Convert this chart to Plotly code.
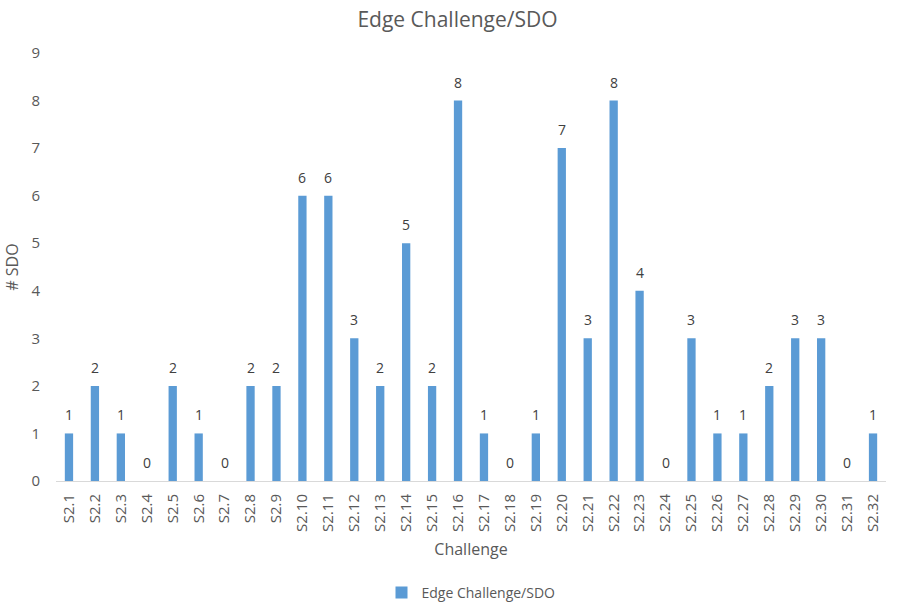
import plotly.graph_objects as go

# Number of SDOs linked to each edge challenge
challenges = [f"S2.{i}" for i in range(1, 33)]
sdo_counts = [1, 2, 1, 0, 2, 1, 0, 2, 2, 6, 6, 3, 2, 5, 2, 8,
              1, 0, 1, 7, 3, 8, 4, 0, 3, 1, 1, 2, 3, 3, 0, 1]
y_ticks = list(range(0, 10))

BAR_COLOR = "#5B9BD5"
TEXT_COLOR = "#595959"
FONT = "Open Sans, Noto Sans, sans-serif"

fig = go.Figure(
    go.Bar(
        x=challenges,
        y=sdo_counts,
        name="Edge Challenge/SDO",
        marker=dict(color=BAR_COLOR, line=dict(width=0)),
        width=0.32,
        showlegend=True,
    )
)

# Value labels sitting above each bar
for cat, val in zip(challenges, sdo_counts):
    fig.add_annotation(
        x=cat,
        y=val,
        text=str(val),
        showarrow=False,
        yanchor="bottom",
        yshift=7,
        font=dict(family=FONT, size=14, color="#404040"),
    )

fig.update_layout(
    width=915,
    height=605,
    paper_bgcolor="white",
    plot_bgcolor="white",
    font=dict(family=FONT, color=TEXT_COLOR),
    title=dict(
        text="Edge Challenge/SDO",
        x=0.5,
        xanchor="center",
        y=0.968,
        yanchor="middle",
        font=dict(family=FONT, size=21, color=TEXT_COLOR),
    ),
    margin=dict(l=56, r=29, t=53, b=124, autoexpand=False),
    legend=dict(
        orientation="h",
        x=0.5,
        xanchor="center",
        yref="container",
        y=0.02,
        yanchor="middle",
        itemwidth=30,
        font=dict(family=FONT, size=14, color=TEXT_COLOR),
    ),
    xaxis=dict(
        title=dict(text="Challenge", font=dict(family=FONT, size=16, color=TEXT_COLOR), standoff=12),
        tickangle=-90,
        tickfont=dict(family=FONT, size=15, color=TEXT_COLOR),
        ticklabelstandoff=6,
        showline=True,
        linecolor="#D9D9D9",
        linewidth=1,
        showgrid=False,
        ticks="",
        automargin=False,
    ),
    yaxis=dict(
        title=dict(text="# SDO", font=dict(family=FONT, size=16, color=TEXT_COLOR), standoff=8),
        range=[0, 9],
        tickvals=y_ticks,
        tickfont=dict(family=FONT, size=15, color=TEXT_COLOR),
        ticklabelstandoff=15,
        showgrid=False,
        zeroline=False,
        showline=False,
        ticks="",
        automargin=False,
    ),
)

fig.write_html("out.html")
